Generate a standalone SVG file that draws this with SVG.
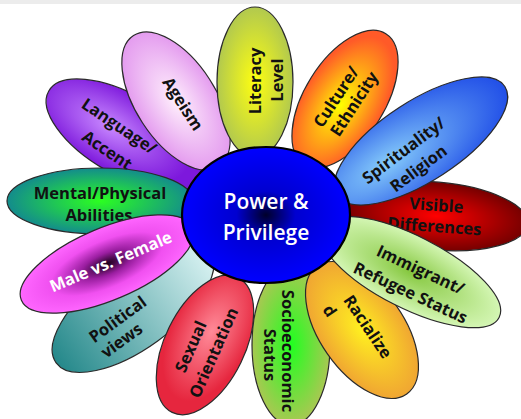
<svg xmlns="http://www.w3.org/2000/svg" width="521" height="419" viewBox="0 0 521 419">
<defs>
<style>
.p{stroke:#2a2a2a;stroke-width:1.2}
.t{font-family:"Open Sans","Liberation Sans",Arial,sans-serif;font-weight:bold;font-size:16.5px;fill:#111;text-anchor:middle}
.w{fill:#fff}
.c{font-family:"Open Sans","Liberation Sans",Arial,sans-serif;font-weight:600;font-size:21px;fill:#fff;text-anchor:middle}
</style>
<radialGradient id="gLit"><stop offset="0" stop-color="#ffff10"/><stop offset="1" stop-color="#b2c94e"/></radialGradient>
<radialGradient id="gAge"><stop offset="0" stop-color="#fff0fc"/><stop offset="1" stop-color="#e49cef"/></radialGradient>
<radialGradient id="gLan" cx="0.4" cy="0.5"><stop offset="0" stop-color="#c888ff"/><stop offset="1" stop-color="#7d18dc"/></radialGradient>
<radialGradient id="gMen"><stop offset="0" stop-color="#2cff20"/><stop offset="1" stop-color="#138c8c"/></radialGradient>
<radialGradient id="gMal"><stop offset="0" stop-color="#1a001a"/><stop offset="0.3" stop-color="#9a1ea0"/><stop offset="0.65" stop-color="#f050f0"/><stop offset="1" stop-color="#ff66ff"/></radialGradient>
<linearGradient id="gPol" x1="0" y1="0" x2="1" y2="0"><stop offset="0" stop-color="#24888a"/><stop offset="1" stop-color="#dcf4f4"/></linearGradient>
<radialGradient id="gSex" cx="0.6" cy="0.5"><stop offset="0" stop-color="#ff8a98"/><stop offset="1" stop-color="#e6263e"/></radialGradient>
<radialGradient id="gSoc"><stop offset="0" stop-color="#20ff20"/><stop offset="1" stop-color="#a8c852"/></radialGradient>
<radialGradient id="gRac"><stop offset="0" stop-color="#fff020"/><stop offset="1" stop-color="#f0a632"/></radialGradient>
<radialGradient id="gImm"><stop offset="0" stop-color="#86c840"/><stop offset="1" stop-color="#d4f6b4"/></radialGradient>
<radialGradient id="gVis"><stop offset="0" stop-color="#ff0000"/><stop offset="1" stop-color="#760000"/></radialGradient>
<radialGradient id="gSpi" cx="0.3" cy="0.5" r="0.75"><stop offset="0" stop-color="#86ccfa"/><stop offset="1" stop-color="#1a46e6"/></radialGradient>
<radialGradient id="gCul" cx="0.45" cy="0.5"><stop offset="0" stop-color="#ffff00"/><stop offset="1" stop-color="#ff5a28"/></radialGradient>
<radialGradient id="gCen"><stop offset="0" stop-color="#00002a"/><stop offset="0.35" stop-color="#0000d0"/><stop offset="1" stop-color="#0000ff"/></radialGradient>
</defs>
<rect x="0" y="0" width="521" height="419" fill="#fff"/>
<rect x="0" y="0" width="521" height="4" fill="#ececec"/>

<g id="political">
<ellipse class="p" transform="translate(133,307) rotate(-36)" rx="95" ry="42" fill="url(#gPol)"/>
<text class="t" transform="rotate(-36 121 324)" x="121" y="324">Political</text>
<text class="t" transform="rotate(-36 125 345)" x="125" y="345">views</text>
</g>
<g id="sexual">
<ellipse class="p" transform="translate(205,345) rotate(-64)" rx="75" ry="40" fill="url(#gSex)"/>
<text class="t" transform="rotate(-66 196 349)" x="196" y="349">Sexual</text>
<text class="t" transform="rotate(-66 219 355)" x="219" y="355">Orientation</text>
</g>
<g id="socio">
<ellipse class="p" transform="translate(291,345) rotate(90)" rx="80" ry="39" fill="url(#gSoc)"/>
<text class="t" transform="rotate(90 282 351)" x="282" y="351">Socioeconomic</text>
<text class="t" transform="rotate(90 264 355)" x="264" y="355">Status</text>
</g>
<g id="racialized">
<ellipse class="p" transform="translate(362,330) rotate(55)" rx="78" ry="42" fill="url(#gRac)"/>
<text class="t" transform="rotate(56 363 330)" x="363" y="330">Racialize</text>
<text class="t" transform="rotate(56 325 314)" x="325" y="314">d</text>
</g>
<g id="visible">
<ellipse class="p" transform="translate(436,216) rotate(5)" rx="92" ry="34" fill="url(#gVis)"/>
<text class="t" transform="rotate(4 436 211)" x="436" y="211">Visible</text>
<text class="t" transform="rotate(4 434 232)" x="434" y="232">Differences</text>
</g>
<g id="immigrant">
<ellipse class="p" transform="translate(410,272) rotate(27)" rx="100" ry="36" fill="url(#gImm)"/>
<text class="t" transform="rotate(25 418 275)" x="418" y="275">Immigrant/</text>
<text class="t" transform="rotate(25 408 298)" x="408" y="298">Refugee Status</text>
</g>
<g id="language">
<ellipse class="p" transform="translate(125,135) rotate(30)" rx="88" ry="40" fill="url(#gLan)"/>
<text class="t" transform="rotate(34 116 131)" x="116" y="131">Language/</text>
<text class="t" transform="rotate(34 104 155)" x="104" y="155">Accent</text>
</g>
<g id="mental">
<ellipse class="p" cx="100" cy="201" rx="93" ry="33" fill="url(#gMen)"/>
<text class="t" x="100" y="199">Mental/Physical</text>
<text class="t" x="99" y="221">Abilities</text>
</g>
<g id="male">
<ellipse class="p" transform="translate(107,264) rotate(-23)" rx="93" ry="36" fill="url(#gMal)"/>
<text class="t w" transform="rotate(-23 113 267)" x="113" y="267">Male vs. Female</text>
</g>
<g id="ageism">
<ellipse class="p" transform="translate(176,101) rotate(57)" rx="78" ry="40" fill="url(#gAge)"/>
<text class="t" transform="rotate(57 178 107)" x="178" y="107">Ageism</text>
</g>
<g id="literacy">
<ellipse class="p" transform="translate(255,82) rotate(-90)" rx="75" ry="38" fill="url(#gLit)"/>
<text class="t" transform="rotate(-90 261 81)" x="261" y="81">Literacy</text>
<text class="t" transform="rotate(-90 283 80)" x="283" y="80">Level</text>
</g>
<g id="culture">
<ellipse class="p" transform="translate(345,99) rotate(-58)" rx="77" ry="40" fill="url(#gCul)"/>
<text class="t" transform="rotate(-57 341 100)" x="341" y="100">Culture/</text>
<text class="t" transform="rotate(-57 359 107)" x="359" y="107">Ethnicity</text>
</g>
<g id="spirituality">
<ellipse class="p" transform="translate(421,141) rotate(-33)" rx="100" ry="40" fill="url(#gSpi)"/>
<text class="t" transform="rotate(-37 407 155)" x="407" y="155">Spirituality/</text>
<text class="t" transform="rotate(-37 422 173)" x="422" y="173">Religion</text>
</g>
<g id="center">
<ellipse cx="266" cy="215" rx="84" ry="68" fill="url(#gCen)" stroke="#000" stroke-width="2.2"/>
<text class="c" x="266" y="209">Power &amp;</text>
<text class="c" x="266" y="240">Privilege</text>
</g>
</svg>
